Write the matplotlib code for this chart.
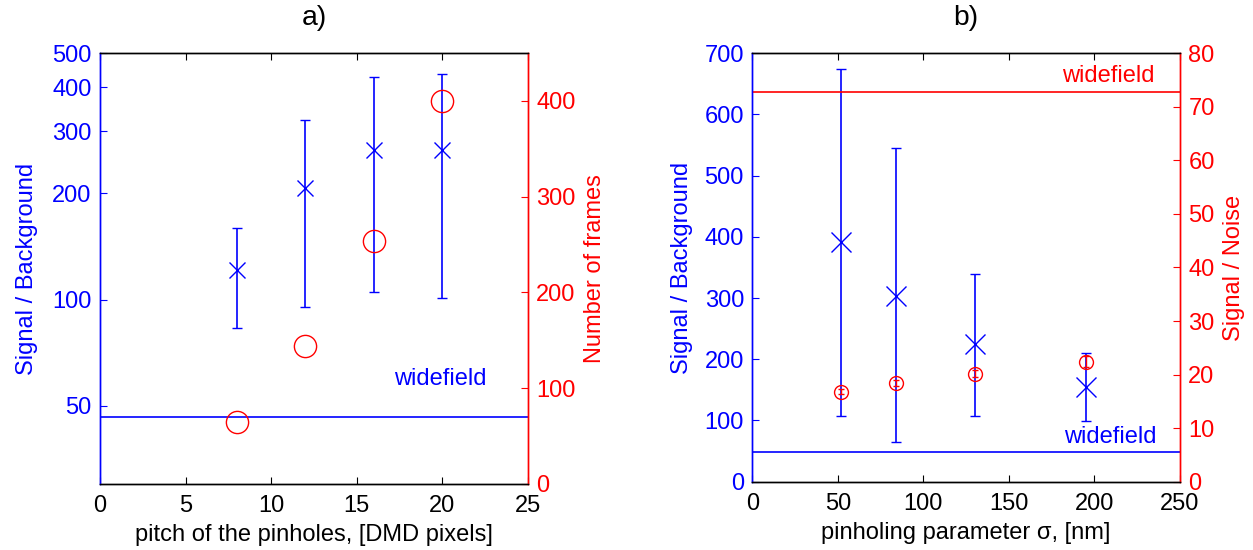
"""
Two-panel pinhole comparison: a) pitch vs S/B and frames, b) sigma vs S/B and S/N.
"""
import matplotlib
matplotlib.use('Agg')
import matplotlib.pyplot as plt
from matplotlib.ticker import FixedLocator, FixedFormatter, NullLocator

plt.rcParams.update({
    'font.family': ['Liberation Sans', 'DejaVu Sans'],
    'font.size': 17,
    'axes.linewidth': 1.0,
    'xtick.direction': 'in',
    'ytick.direction': 'in',
    'xtick.major.size': 5,
    'ytick.major.size': 5,
})

BLUE = '#0000ff'
RED = '#ff0000'

# ── panel a) ──
pitch = [8, 12, 16, 20]
sb_a = [121, 207, 266, 266]
sb_a_lo = [83, 95, 105, 101]
sb_a_hi = [160, 322, 428, 435]
frames = [65, 144, 254, 400]
sb_wide_a = 46.5

# ── panel b) ──
sigma = [52, 84, 130, 195]
sb_b = [392, 304, 225, 154]
sb_b_lo = [108, 65, 108, 99]
sb_b_hi = [674, 545, 340, 211]
sn_b = [16.8, 18.4, 20.2, 22.4]
sn_b_err = [0.5, 0.5, 0.6, 1.0]
sb_wide_b = 49
sn_wide_b = 72.7

fig = plt.figure(figsize=(12.53, 5.5), dpi=100)

# ───────────── a) ─────────────
ax1 = fig.add_axes([0.0798, 0.12, 0.3416, 0.7836])
ax1.set_yscale('log')
err_lo = [v - lo for v, lo in zip(sb_a, sb_a_lo)]
err_hi = [hi - v for v, hi in zip(sb_a, sb_a_hi)]
ax1.errorbar(pitch, sb_a, yerr=[err_lo, err_hi], fmt='x', color=BLUE,
             ms=12, mew=1.0, elinewidth=1.2, capsize=3.5, capthick=1.2)
ax1.axhline(sb_wide_a, color=BLUE, lw=1.2)
ax1.text(19.9, 59.6, 'widefield', color=BLUE, ha='center', va='center')
ax1.set_xlim(0, 25)
ax1.set_ylim(30, 500)
ax1.yaxis.set_major_locator(FixedLocator([50, 100, 200, 300, 400, 500]))
ax1.yaxis.set_major_formatter(FixedFormatter(['50', '100', '200', '300', '400', '500']))
ax1.yaxis.set_minor_locator(NullLocator())
ax1.set_xticks([0, 5, 10, 15, 20, 25])
ax1.tick_params(axis='x', top=True, pad=8)
ax1.tick_params(axis='y', colors=BLUE, pad=6)
ax1.set_ylabel('Signal / Background', color=BLUE, labelpad=10)
ax1.set_xlabel('pitch of the pinholes, [DMD pixels]', labelpad=5)
ax1.set_title('a)', pad=20)

ax1r = ax1.twinx()
ax1r.plot(pitch, frames, 'o', mfc='none', mec=RED, ms=16, mew=1.0)
ax1r.set_ylim(0, 450)
ax1r.set_yticks([0, 100, 200, 300, 400])
ax1r.tick_params(axis='y', colors=RED, pad=6)
ax1r.set_ylabel('Number of frames', color=RED, labelpad=6)
ax1r.spines['right'].set_color(RED)
ax1r.spines['left'].set_color(BLUE)
ax1.spines['left'].set_color(BLUE)
ax1.spines['right'].set_color(RED)

# ───────────── b) ─────────────
ax2 = fig.add_axes([0.6004, 0.1242, 0.3413, 0.779])
err_lo = [v - lo for v, lo in zip(sb_b, sb_b_lo)]
err_hi = [hi - v for v, hi in zip(sb_b, sb_b_hi)]
ax2.errorbar(sigma, sb_b, yerr=[err_lo, err_hi], fmt='x', color=BLUE,
             ms=14, mew=1.0, elinewidth=1.2, capsize=3.5, capthick=1.2)
ax2.axhline(sb_wide_b, color=BLUE, lw=1.2)
ax2.text(209, 72.5, 'widefield', color=BLUE, ha='center', va='center')
ax2.set_xlim(0, 250)
ax2.set_ylim(0, 700)
ax2.set_xticks([0, 50, 100, 150, 200, 250])
ax2.set_yticks(range(0, 701, 100))
ax2.tick_params(axis='x', top=True, pad=8)
ax2.tick_params(axis='y', colors=BLUE, pad=6)
ax2.set_ylabel('Signal / Background', color=BLUE, labelpad=8)
ax2.set_xlabel('pinholing parameter σ, [nm]', labelpad=5)
ax2.set_title('b)', pad=20)

ax2r = ax2.twinx()
ax2r.errorbar(sigma, sn_b, yerr=sn_b_err, fmt='o', mfc='none', mec=RED,
              color=RED, ms=10, mew=1.0, elinewidth=1.0, capsize=2.5, capthick=1.0)
ax2r.axhline(sn_wide_b, color=RED, lw=1.2)
ax2r.text(208, 75.8, 'widefield', color=RED, ha='center', va='center')
ax2r.set_ylim(0, 80)
ax2r.set_yticks(range(0, 81, 10))
ax2r.tick_params(axis='y', colors=RED, pad=6)
ax2r.set_ylabel('Signal / Noise', color=RED, labelpad=6)
ax2r.spines['right'].set_color(RED)
ax2r.spines['left'].set_color(BLUE)
ax2.spines['left'].set_color(BLUE)
ax2.spines['right'].set_color(RED)

fig.savefig('out.png', dpi=100)
